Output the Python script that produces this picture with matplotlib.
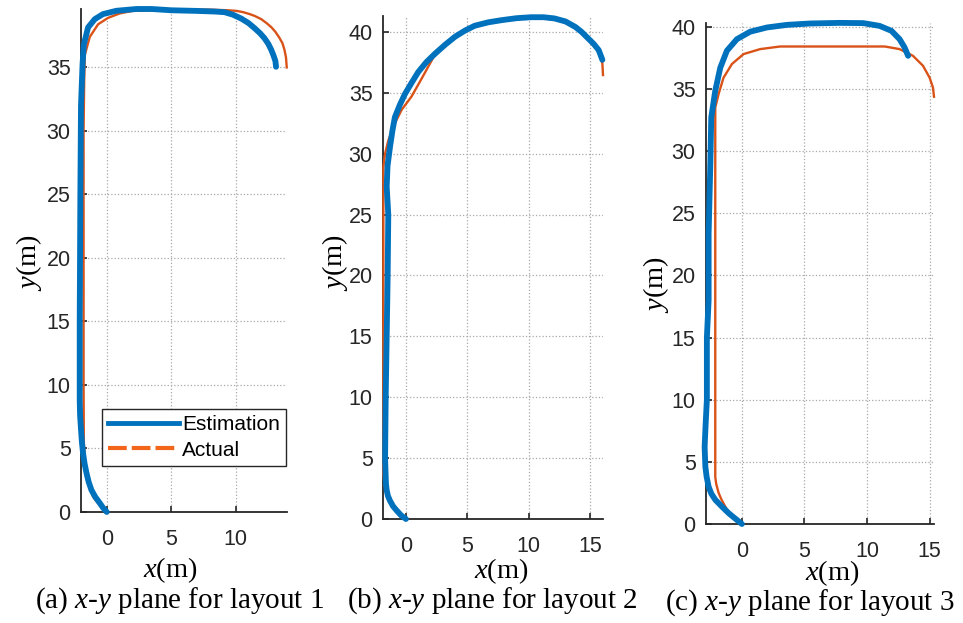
import matplotlib
matplotlib.use("Agg")
import matplotlib.pyplot as plt
from matplotlib.lines import Line2D

plt.rcParams["font.family"] = "Liberation Sans"
plt.rcParams["mathtext.fontset"] = "custom"
plt.rcParams["mathtext.rm"] = "Liberation Serif"
plt.rcParams["mathtext.it"] = "Liberation Serif:italic"

# layout 1
est1_x = [0.0, -0.3, -0.54, -0.9, -1.19, -1.4, -1.57, -1.72, -1.84, -1.93, -2.0, -2.07, -2.1, -2.1,
          -2.05, -2.0, -1.88, -1.78, -1.45, -0.93, -0.29, 0.75, 2.3, 3.5, 5.0, 7.0, 8.4, 9.15, 9.8,
          10.44, 11.0, 11.47, 11.9, 12.25, 12.55, 12.77, 12.95, 13.1, 13.15]
est1_y = [0.0, 0.35, 0.7, 1.2, 1.73, 2.35, 3.05, 3.8, 4.63, 5.5, 6.5, 7.6, 8.8, 15.0,
          25.0, 32.0, 35.25, 36.8, 38.15, 38.8, 39.2, 39.46, 39.6, 39.6, 39.5, 39.45, 39.4, 39.35, 39.15,
          38.85, 38.5, 38.1, 37.7, 37.3, 36.85, 36.4, 35.95, 35.5, 35.05]
act1_x = [0.0, -0.5, -0.8, -1.06, -1.3, -1.45, -1.6, -1.7, -1.78, -1.8, -1.8, -1.8, -1.75, -1.7,
          -1.32, -0.67, 0.1, 1.0, 2.0, 5.0, 8.0, 9.4, 10.1, 10.6, 11.1, 11.5, 12.0, 12.4, 12.8, 13.1,
          13.4, 13.65, 13.8, 13.92, 13.98]
act1_y = [0.0, 0.5, 0.85, 1.2, 1.8, 2.4, 3.1, 3.84, 5.5, 10.0, 20.0, 30.0, 34.0, 36.0,
          37.4, 38.4, 38.9, 39.25, 39.45, 39.55, 39.55, 39.5, 39.45, 39.35, 39.2, 39.05, 38.8, 38.5, 38.15, 37.8,
          37.35, 36.9, 36.4, 35.8, 35.0]

# layout 2
est2_x = [0.0, -0.4, -0.76, -1.05, -1.3, -1.47, -1.57, -1.63, -1.65, -1.7, -1.65, -1.57, -1.49, -1.44,
          -1.57, -1.5, -1.3, -1.1, -0.9, -0.5, -0.08, 0.45, 1.0, 1.65, 2.36, 3.2, 4.0, 4.8, 5.6, 6.7,
          7.8, 9.0, 10.2, 11.2, 12.1, 13.0, 13.8, 14.3, 14.8, 15.3, 15.7, 16.0]
est2_y = [0.0, 0.3, 0.7, 1.05, 1.5, 1.9, 2.36, 2.9, 3.45, 5.0, 10.0, 15.0, 20.0, 25.0,
          27.3, 29.0, 30.55, 31.9, 33.0, 34.0, 34.9, 35.8, 36.7, 37.5, 38.2, 38.95, 39.6, 40.1, 40.5, 40.78,
          40.96, 41.12, 41.2, 41.2, 41.1, 40.85, 40.4, 40.0, 39.5, 39.0, 38.5, 37.7]
act2_x = [0.0, -0.4, -0.8, -1.15, -1.4, -1.6, -1.75, -1.84, -1.84, -1.84, -1.84, -1.7, -1.43, -0.9,
          -0.35, 0.46, 1.3, 2.23, 3.2, 4.0, 4.8, 5.6, 6.7, 7.8, 9.0, 10.2, 11.2, 12.1, 13.0, 13.8,
          14.3, 14.8, 15.3, 15.7, 16.0, 16.05]
act2_y = [0.0, 0.25, 0.6, 1.05, 1.6, 2.2, 2.8, 3.7, 10.0, 20.0, 28.9, 30.0, 31.1, 32.5,
          33.6, 34.7, 36.2, 37.9, 38.85, 39.5, 40.0, 40.4, 40.7, 40.9, 41.05, 41.1, 41.1, 41.0, 40.75, 40.3,
          39.9, 39.4, 38.9, 38.3, 37.4, 36.45]

# layout 3
est3_x = [0.0, -0.55, -1.07, -1.6, -2.13, -2.45, -2.66, -2.82, -2.92, -2.98, -2.9, -2.8, -2.8, -2.66,
          -2.66, -2.53, -2.45, -2.13, -1.73, -1.2, -0.4, 0.66, 2.0, 3.6, 5.44, 7.83, 9.7, 11.0, 11.95,
          12.6, 13.0, 13.28]
est3_y = [0.0, 0.45, 0.88, 1.4, 1.95, 2.45, 3.0, 3.8, 4.6, 6.2, 8.0, 10.0, 15.0, 18.0,
          23.35, 28.7, 32.7, 34.85, 36.7, 38.07, 39.0, 39.6, 39.94, 40.15, 40.26, 40.31, 40.29, 40.07, 39.67,
          39.0, 38.33, 37.66]
act3_x = [0.0, -0.53, -1.0, -1.33, -1.65, -1.86, -2.05, -2.13, -2.13, -2.13, -2.13, -1.86, -1.47, -0.8,
          0.13, 1.46, 3.05, 11.42, 12.6, 13.67, 14.47, 15.0, 15.27, 15.35]
act3_y = [0.0, 0.35, 0.85, 1.4, 2.0, 2.5, 3.2, 3.8, 10.0, 20.0, 33.5, 34.6, 35.9, 37.0,
          37.8, 38.2, 38.41, 38.41, 38.2, 37.66, 36.86, 35.9, 35.1, 34.37]

est = [(est1_x, est1_y), (est2_x, est2_y), (est3_x, est3_y)]
act = [(act1_x, act1_y), (act2_x, act2_y), (act3_x, act3_y)]
xlims = [(-2.0, 14.0), (-1.87, 16.05), (-2.87, 15.35)]
ylims = [(0, 39.6), (0, 41.3), (0, 40.3)]
xticks = [[0, 5, 10], [0, 5, 10, 15], [0, 5, 10, 15]]
yticks = [list(range(0, 40, 5)), list(range(0, 45, 5)), list(range(0, 45, 5))]
captions = ["(a) $x$-$y$ plane for layout 1", "(b) $x$-$y$ plane for layout 2",
            "(c) $x$-$y$ plane for layout 3"]

W, H = 963, 623
# axes boxes in pixels: left, top, right, bottom
boxes = [(81, 9, 287, 512), (383, 16, 603, 519), (706, 23, 934, 524)]
xlab_pos = [(170.5, 577), (501, 578), (832.5, 580)]
ylab_pos = [(29, 263), (335, 263), (656, 285)]
cap_pos = [(180, 608), (492, 608), (810, 610)]

blue = "#0072BD"
orange = "#D95319"
dark = "#262626"

fig = plt.figure(figsize=(W / 100, H / 100), dpi=100)

for i in range(3):
    l, t, r, b = boxes[i]
    ax = fig.add_axes([l / W, 1 - b / H, (r - l) / W, (b - t) / H])
    ax.plot(act[i][0], act[i][1], color=orange, lw=1.7, clip_on=False, zorder=3)
    ax.plot(est[i][0], est[i][1], color=blue, lw=4.2, solid_capstyle="round",
            solid_joinstyle="round", clip_on=False, zorder=4)
    ax.set_xlim(*xlims[i])
    ax.set_ylim(*ylims[i])
    ax.set_xticks(xticks[i])
    ax.set_yticks(yticks[i])
    ax.spines["top"].set_visible(False)
    ax.spines["right"].set_visible(False)
    for s in ("left", "bottom"):
        ax.spines[s].set_color(dark)
        ax.spines[s].set_linewidth(1.3)
    ax.tick_params(direction="in", length=4, width=1.2, colors=dark, labelsize=15.5)
    ax.tick_params(axis="x", pad=12)
    ax.tick_params(axis="y", pad=7.5)
    ax.grid(True, linestyle=":", color="#a8a8a8", linewidth=0.9)
    ax.set_axisbelow(True)

    fig.text(xlab_pos[i][0] / W, 1 - xlab_pos[i][1] / H, "$x$(m)", fontsize=20.5,
             family="Liberation Serif", ha="center", va="baseline")
    fig.text(ylab_pos[i][0] / W, 1 - ylab_pos[i][1] / H, "$y$(m)", fontsize=20.5,
             family="Liberation Serif", ha="center", va="center", rotation=90)
    fig.text(cap_pos[i][0] / W, 1 - cap_pos[i][1] / H, captions[i], fontsize=21,
             family="Liberation Serif", ha="center", va="baseline")

    if i == 0:
        handles = [Line2D([], [], color=blue, lw=3.5),
                   Line2D([], [], color="#F2661C", lw=3, ls=(0, (4.5, 1.2)))]
        leg = ax.legend(handles, ["Estimation", "Actual"], loc="lower left",
                        bbox_to_anchor=(0.102, 0.0915), borderaxespad=0, fontsize=15,
                        handlelength=3.4, handletextpad=0.15, labelspacing=0.3,
                        borderpad=0.3, fancybox=False, framealpha=1)
        leg.get_frame().set_edgecolor(dark)
        leg.get_frame().set_linewidth(1.0)
        leg.set_zorder(10)

fig.savefig("out.png", dpi=100)
